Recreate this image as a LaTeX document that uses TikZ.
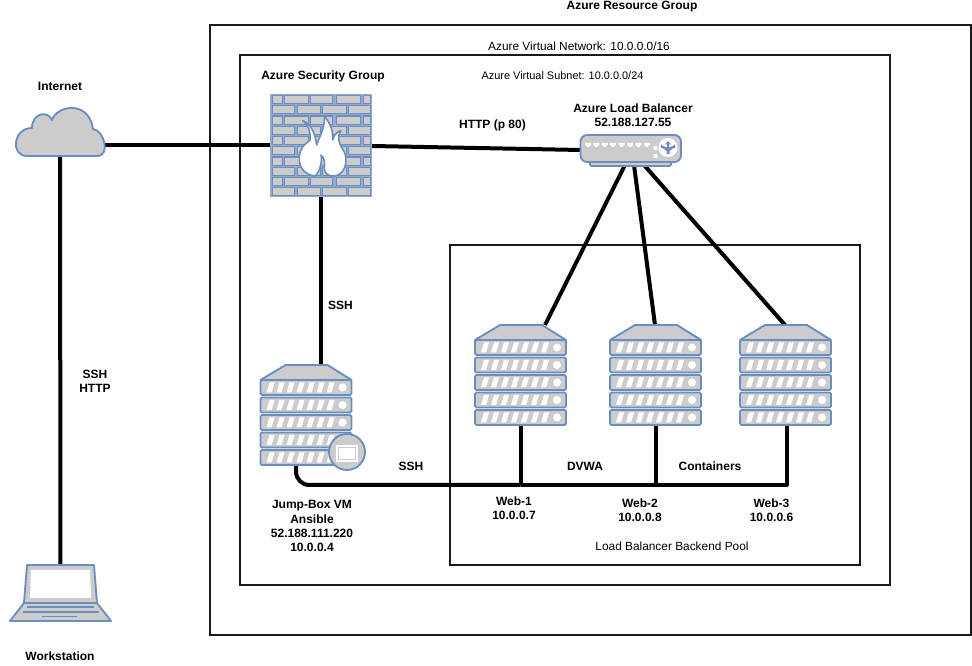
\documentclass[tikz,border=0pt]{standalone}
\usepackage{fontspec}
\setmainfont{Liberation Sans}
\definecolor{ic_fill}{RGB}{204, 204, 204}
\definecolor{ic_line}{RGB}{108, 142, 191}
\tikzstyle{zone}=[draw=black!90,line width=1.5pt]
\tikzstyle{link}=[draw=black,line width=3pt]
\tikzstyle{iconbox}=[rectangle,inner sep=0pt,outer sep=0pt]
\tikzstyle{ic}=[fill=ic_fill,draw=ic_line,line width=1.4pt,line join=round]
\tikzstyle{lbl}=[font=\bfseries\fontsize{9pt}{10.6pt}\selectfont,align=center,inner sep=0pt]
\tikzstyle{lblr}=[font=\fontsize{8.9pt}{10.6pt}\selectfont,align=center,inner sep=0pt]
\tikzset{
  server/.pic={
    \draw[ic] (25,0) -- (67,0) -- (91,15) -- (0,15) -- cycle;
    \foreach \y in {15,32.5,50,67.5,85} {
      \draw[ic,rounded corners=1pt] (0,\y) rectangle (91,\y+15);
      \foreach \x in {6,16,...,66}
        \fill[white] (\x,\y+12.5) -- (\x+3,\y+2.5) -- (\x+8,\y+2.5) -- (\x+5,\y+12.5) -- cycle;
      \fill[white] (82,\y+7.5) circle[radius=4];
    }
  },
  brickrow/.pic={
    \foreach \a/\b in {#1}
      \fill[ic_fill,draw=ic_line,line width=0.8pt] (\a,1) rectangle (\b,9.2);
  }
}
\begin{document}
\begin{tikzpicture}[x=0.75pt,y=-0.75pt]
    \useasboundingbox (0,0) rectangle (972,666);
    % zones
    \node[iconbox,zone,minimum width=570.75pt,minimum height=457.5pt] (rg) at (590.5,330) {};
    \node[iconbox,zone,minimum width=487.5pt,minimum height=397.5pt] (vnet) at (565,320) {};
    \node[iconbox,zone,minimum width=307.5pt,minimum height=240pt] (pool) at (655,405) {};
    % icon places
    \node[iconbox,minimum width=67.5pt,minimum height=37.5pt] (cloud) at (60,131) {};
    \node[iconbox,minimum width=76.5pt,minimum height=77.25pt] (fw) at (321,145.5) {};
    \node[iconbox,minimum width=75.75pt,minimum height=23.25pt] (lb) at (630.5,150.5) {};
    \node[iconbox,minimum width=68.25pt,minimum height=75pt] (jump) at (305.5,415) {};
    \node[iconbox,minimum width=68.25pt,minimum height=75pt] (web1) at (520.5,375) {};
    \node[iconbox,minimum width=68.25pt,minimum height=75pt] (web2) at (655.5,375) {};
    \node[iconbox,minimum width=68.25pt,minimum height=75pt] (web3) at (786.5,375) {};
    \node[iconbox,minimum width=75.75pt,minimum height=42pt] (wks) at (60.5,593) {};
    \coordinate (lb1) at (625,165);
    \coordinate (lb2) at (634,165);
    \coordinate (lb3) at (644,165);
    \coordinate (w1t) at (545,325);
    \coordinate (w2t) at (655,325);
    \coordinate (w3t) at (785,325);
    \coordinate (jbo) at (296,465);
    \coordinate (b1) at (520.5,485);
    \coordinate (b2) at (655.5,485);
    \coordinate (b3) at (786.5,485);
    \coordinate (fwj) at (321,197);
    \coordinate (jbt) at (321,366);
    \coordinate (cl1) at (102,145);
    \coordinate (cl2) at (270,145);
    \coordinate (fwr) at (372,146);
    \coordinate (lbl) at (581,150);
    % connectors
    \draw[link] (cl1) to (cl2);
    \draw[link] (cloud.south) to (wks.north);
    \draw[link] (fwr) to (lbl);
    \draw[link] (fwj) to (jbt);
    \draw[link] (lb1) to (w1t);
    \draw[link] (lb2) to (w2t);
    \draw[link] (lb3) to (w3t);
    \draw[link,rounded corners=10pt] (jbo) |- (b1);
    \draw[link,line join=round] (b1) -- (b3) -- (web3.south);
    \draw[link] (web1.south) to (b1);
    \draw[link] (web2.south) to (b2);
    % cloud
    \draw[ic,xshift=1.5pt] (25,156) .. controls (8,156) and (11,128) .. (30,128)
      .. controls (30,113) and (46,110) .. (50,120)
      .. controls (55,105) and (87,100) .. (91,129)
      .. controls (102,130) and (109,156) .. (95,156) -- cycle;
    % firewall
    \fill[ic_line!75!white] (fw.north west) rectangle (fw.south east);
    \begin{scope}[shift={(270.7,94.5)}]
      \foreach \i in {0,2,4,6,8}
        \pic at (0,\i*10.25) {brickrow={1.5/12,14/37.5,40/62,66/90,93/100}};
      \foreach \i in {1,3,5,7,9}
        \pic at (0,\i*10.25) {brickrow={1.5/24,27/49.5,52/76,78/100}};
    \end{scope}
    \begin{scope}[shift={(265,90)},x=0.25pt,y=-0.25pt]
      \draw[fill=white,draw=ic_line,line width=1.2pt,line join=round]
        (150,258) .. controls (122,255) and (100,235) .. (103,200)
        .. controls (105,170) and (125,160) .. (135,150)
        .. controls (138,125) and (130,105) .. (113,92)
        .. controls (135,100) and (150,125) .. (155,165)
        .. controls (165,135) and (180,115) .. (178,78)
        .. controls (195,100) and (205,120) .. (203,150)
        .. controls (208,130) and (220,125) .. (228,122)
        .. controls (215,140) and (222,165) .. (235,180)
        .. controls (250,205) and (245,250) .. (210,258)
        .. controls (190,260) and (178,250) .. (178,235)
        .. controls (180,215) and (178,205) .. (168,195)
        .. controls (172,215) and (165,245) .. (150,258) -- cycle;
    \end{scope}
    % load balancer
    \draw[ic,rounded corners=1pt] (590,161) rectangle (671,166);
    \draw[ic,rounded corners=5pt] (580.5,135) rectangle (681,162);
    \foreach \x in {0,...,7}
      \fill[white] (585+\x*8.4,143) rectangle +(6,2.5) (586.5+\x*8.4,145) rectangle +(3,2);
    \fill[white] (655.5,148) circle[radius=2.2];
    \fill[white] (655.5,156) circle[radius=2.2];
    \fill[white] (668,147.5) circle[radius=9.5];
    \fill[ic_line] (668,141) -- (671,144.5) -- (669,144.5) -- (669,147.5) -- (674,145.5) -- (674,144)
      -- (675.5,146.5) -- (674,149) -- (674,147.5) -- (669.5,151) -- (669.5,154) -- (666.5,154)
      -- (666.5,151) -- (662,147.5) -- (662,149) -- (660.5,146.5) -- (662,144) -- (662,145.5)
      -- (667,147.5) -- (667,144.5) -- (665,144.5) -- cycle;
    % servers
    \pic at (260.5,365) {server};
    \pic at (475,325) {server};
    \pic at (610,325) {server};
    \pic at (740,325) {server};
    \draw[ic] (347,452) circle[radius=18];
    \fill[white] (336,445) rectangle (358,462);
    \fill[ic_fill] (338,447) rectangle (356,460);
    \fill[white] (339,448.5) rectangle (355,459);
    % workstation
    \draw[ic] (24,603) -- (10,621) -- (111,621) -- (97,603) -- cycle;
    \draw[ic] (27,565) -- (94,565) -- (97,603) -- (24,603) -- cycle;
    \fill[ic_fill] (29,568) -- (92,568) -- (94,600) -- (27,600) -- cycle;
    \fill[white] (31,570) -- (90,570) -- (91,598) -- (30,598) -- cycle;
    \draw[ic_line,line width=1.4pt] (27,607) -- (94,607) (23,612) -- (99,612) (42,616.5) -- (77,616.5);
    % labels
    \node[lbl] (t0) at (632,7) {Azure Resource Group};
    \node[lblr] (t1) at (579,46) {Azure Virtual Network: 10.0.0.0/16};
    \node[lblr,font=\fontsize{8.2pt}{10.6pt}\selectfont] (t2) at (562.5,76) {Azure Virtual Subnet: 10.0.0.0/24};
    \node[lbl] (t3) at (323,76) {Azure Security Group};
    \node[lbl] (t4) at (60,86) {Internet};
    \node[lbl] (t5) at (492.5,125) {HTTP (p 80)};
    \node[lbl] (t6) at (633,115) {Azure Load Balancer\\52.188.127.55};
    \node[lbl] (t7) at (340.5,305) {SSH};
    \node[lbl] (t8) at (95,381) {SSH\\HTTP};
    \node[lbl] (t9) at (411,466) {SSH};
    \node[lbl] (t10) at (585,466) {DVWA};
    \node[lbl] (t11) at (710,466) {Containers};
    \node[lbl] (t12) at (514,508.5) {Web-1\\10.0.0.7};
    \node[lbl] (t13) at (640,510.5) {Web-2\\10.0.0.8};
    \node[lbl] (t14) at (771.5,510.5) {Web-3\\10.0.0.6};
    \node[lblr] (t15) at (672,546) {Load Balancer Backend Pool};
    \node[lbl] (t16) at (312,526) {Jump-Box VM\\Ansible\\52.188.111.220\\10.0.0.4};
    \node[lbl] (t17) at (60,656) {Workstation};
\end{tikzpicture}
\end{document}
